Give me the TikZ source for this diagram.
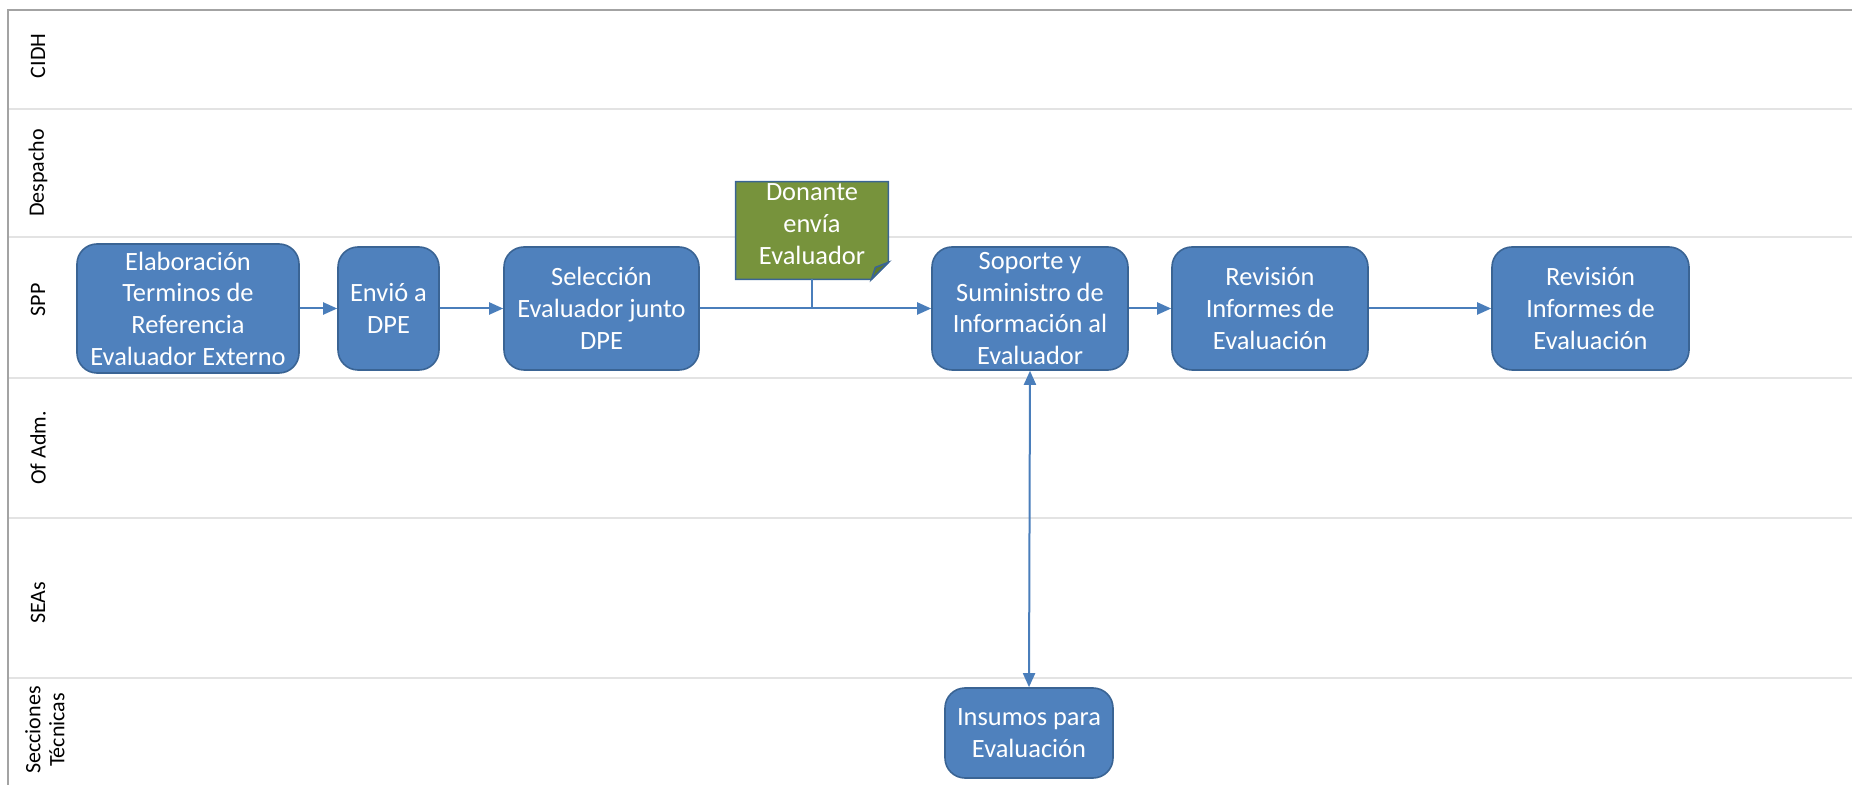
\documentclass[tikz,border=0pt]{standalone}
\usepackage{fontspec}
\setmainfont{Carlito}
\usetikzlibrary{arrows.meta}
\definecolor{boxblue}{HTML}{4F81BD}
\definecolor{boxedge}{HTML}{3A6494}
\definecolor{arrblue}{HTML}{4A7EBB}
\definecolor{olive}{HTML}{77933C}
\definecolor{olivedark}{HTML}{5E7A2C}
\definecolor{framegray}{HTML}{A3A3A3}
\definecolor{lanegray}{HTML}{E3E3E3}
\tikzset{
  proc/.style={draw=boxedge, line width=0.8pt, fill=boxblue, rounded corners=10pt,
    text=white, align=center, inner sep=0pt,
    font=\fontsize{13.2}{15.85}\selectfont},
  lanelabel/.style={rotate=90, align=center, inner sep=0pt,
    font=\fontsize{11}{12}\selectfont},
  flow/.style={draw=arrblue, line width=1pt, -{Triangle[length=7pt,width=6pt]}},
  flowboth/.style={draw=arrblue, line width=1pt,
    {Triangle[length=7pt,width=6pt]}-{Triangle[length=7pt,width=6pt]}},
  plainflow/.style={draw=arrblue, line width=1pt},
  lanesep/.style={draw=lanegray, line width=0.8pt},
  frameline/.style={draw=framegray, line width=1pt}
}
\begin{document}
\begin{tikzpicture}[x=0.5pt, y=-0.5pt]
\useasboundingbox (0,0) rectangle (1852,785);
% lane separators
\coordinate (fl1) at (8,109);  \coordinate (fr1) at (1852,109);
\coordinate (fl2) at (8,237);  \coordinate (fr2) at (1852,237);
\coordinate (fl3) at (8,378);  \coordinate (fr3) at (1852,378);
\coordinate (fl4) at (8,518);  \coordinate (fr4) at (1852,518);
\coordinate (fl5) at (8,678);  \coordinate (fr5) at (1852,678);
\draw[lanesep] (fl1) -- (fr1);
\draw[lanesep] (fl2) -- (fr2);
\draw[lanesep] (fl3) -- (fr3);
\draw[lanesep] (fl4) -- (fr4);
\draw[lanesep] (fl5) -- (fr5);
% frame
\coordinate (ftl) at (8,10); \coordinate (ftr) at (1852,10); \coordinate (fbl) at (8,785);
\draw[frameline] (fbl) -- (ftl) -- (ftr);
% lane labels
\node[lanelabel] (lCIDH) at (38,56) {CIDH};
\node[lanelabel] (lDesp) at (38,173) {Despacho};
\node[lanelabel] (lSPP) at (38,300) {SPP};
\node[lanelabel] (lOf) at (38,448) {Of Adm.};
\node[lanelabel] (lSEA) at (38,603) {SEAs};
\node[lanelabel] (lSec) at (45,730) {Secciones\\Técnicas};
% process boxes
\node[proc, minimum width=111pt, minimum height=64.5pt] (b1) at (188,308.5)
  {Elaboración\\Terminos de\\Referencia\\Evaluador Externo};
\node[proc, minimum width=50.5pt, minimum height=61.5pt] (b2) at (388.5,308.5)
  {Envió a\\DPE};
\node[proc, minimum width=97.5pt, minimum height=61.5pt] (b3) at (601.5,308.5)
  {Selección\\Evaluador junto\\DPE};
\node[proc, minimum width=98pt, minimum height=61.5pt] (b4) at (1030,308.5)
  {Soporte y\\Suministro de\\Información al\\Evaluador};
\node[proc, minimum width=98pt, minimum height=61.5pt] (b5) at (1270,308.5)
  {Revisión\\Informes de\\Evaluación};
\node[proc, minimum width=98.5pt, minimum height=61.5pt] (b6) at (1590.5,308.5)
  {Revisión\\Informes de\\Evaluación};
\node[proc, minimum width=84pt, minimum height=45pt] (b7) at (1029,733)
  {Insumos para\\Evaluación};
% note (dog-eared)
\node[minimum width=76pt, minimum height=48.5pt, inner sep=0pt] (note) at (812,230.5) {};
\draw[draw=boxedge, line width=0.8pt, fill=olive]
  (note.north west) -- (note.north east) -- ([yshift=8.5pt]note.south east)
  -- ([xshift=-8.5pt]note.south east) -- (note.south west) -- cycle;
\draw[draw=boxedge, line width=0.8pt, fill=olivedark]
  ([xshift=-8.5pt]note.south east) -- ([xshift=-6.5pt,yshift=6pt]note.south east)
  -- ([yshift=8.5pt]note.south east) -- cycle;
\node[text=white, align=center, inner sep=0pt, font=\fontsize{13.2}{15.85}\selectfont]
  (notetext) at (812,224) {Donante\\envía\\Evaluador};
% connectors
\draw[flow] (b1) -- (b2);
\draw[flow] (b2) -- (b3);
\draw[flow] (b3) -- (b4);
\draw[plainflow] (note.south) -- (note.south |- b3.east);
\draw[flow] (b4) -- (b5);
\draw[flow] (b5) -- (b6);
\draw[flowboth] (b4.south) -- (b7.north);
\end{tikzpicture}
\end{document}
